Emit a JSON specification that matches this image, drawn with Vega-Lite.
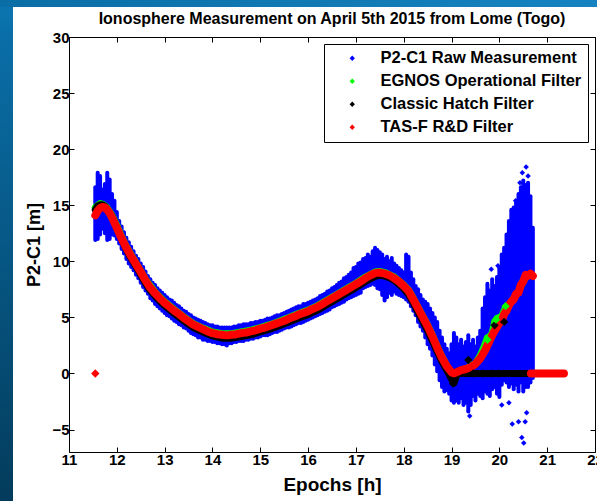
{
  "$schema": "https://vega.github.io/schema/vega-lite/v6.json",
  "background": "white",
  "padding": 0,
  "spacing": 0,
  "resolve": {"scale": {"color": "independent"}, "legend": {"color": "independent"}},
  "config": {
    "view": {"stroke": null},
    "font": "Liberation Sans",
    "axis": {
      "grid": false,
      "domainColor": "black",
      "domainWidth": 1,
      "tickColor": "black",
      "tickWidth": 1,
      "tickSize": -5,
      "labelFont": "Liberation Sans",
      "labelFontSize": 15,
      "labelFontWeight": "bold",
      "labelColor": "black",
      "labelPadding": 5,
      "labelFlush": false,
      "labelOverlap": false,
      "labelBound": false,
      "titleFont": "Liberation Sans",
      "titleFontWeight": "bold",
      "titleColor": "black"
    },
    "legend": {
      "orient": "top-right",
      "offset": 7,
      "fillColor": "white",
      "strokeColor": "black",
      "padding": 6,
      "rowPadding": 6,
      "symbolType": "diamond",
      "symbolSize": 28,
      "symbolOffset": 14,
      "labelOffset": 20,
      "labelFont": "Liberation Sans",
      "labelFontSize": 16.5,
      "labelFontWeight": "bold",
      "labelColor": "black",
      "labelLimit": 400,
      "symbolStrokeWidth": 0,
      "cornerRadius": 0
    }
  },
  "datasets": {
    "raw": [
      {"t":11.55,"lo":11.9,"hi":16.6},{"t":11.60,"lo":12.0,"hi":17.9},{"t":11.65,"lo":12.4,"hi":17.6},{"t":11.70,"lo":12.9,"hi":16.4},
      {"t":11.75,"lo":12.5,"hi":16.9},{"t":11.80,"lo":11.9,"hi":17.9},{"t":11.85,"lo":12.0,"hi":17.3},{"t":11.90,"lo":12.4,"hi":16.0},
      {"t":11.95,"lo":12.3,"hi":15.4},{"t":12.00,"lo":12.0,"hi":14.4},{"t":12.05,"lo":11.6,"hi":13.6},{"t":12.10,"lo":11.1,"hi":13.1},
      {"t":12.15,"lo":10.7,"hi":12.6},{"t":12.20,"lo":10.2,"hi":12.1},{"t":12.25,"lo":9.8,"hi":11.7},{"t":12.30,"lo":9.5,"hi":11.3},
      {"t":12.35,"lo":9.2,"hi":10.9},{"t":12.40,"lo":8.8,"hi":10.5},{"t":12.45,"lo":8.5,"hi":10.2},{"t":12.50,"lo":8.1,"hi":9.8},
      {"t":12.55,"lo":7.7,"hi":9.5},{"t":12.60,"lo":7.4,"hi":9.1},{"t":12.65,"lo":7.1,"hi":8.7},{"t":12.70,"lo":6.7,"hi":8.4},
      {"t":12.75,"lo":6.5,"hi":8.1},{"t":12.80,"lo":6.2,"hi":7.9},{"t":12.85,"lo":6.0,"hi":7.6},{"t":12.90,"lo":5.8,"hi":7.4},
      {"t":12.95,"lo":5.6,"hi":7.2},{"t":13.00,"lo":5.4,"hi":7.0},{"t":13.05,"lo":5.2,"hi":6.8},{"t":13.10,"lo":5.1,"hi":6.6},
      {"t":13.15,"lo":4.9,"hi":6.5},{"t":13.20,"lo":4.7,"hi":6.3},{"t":13.25,"lo":4.6,"hi":6.1},{"t":13.30,"lo":4.4,"hi":6.0},
      {"t":13.35,"lo":4.3,"hi":5.8},{"t":13.40,"lo":4.1,"hi":5.6},{"t":13.45,"lo":4.0,"hi":5.5},{"t":13.50,"lo":3.8,"hi":5.3},
      {"t":13.55,"lo":3.6,"hi":5.2},{"t":13.60,"lo":3.5,"hi":5.0},{"t":13.65,"lo":3.4,"hi":4.9},{"t":13.70,"lo":3.2,"hi":4.8},
      {"t":13.75,"lo":3.2,"hi":4.7},{"t":13.80,"lo":3.0,"hi":4.6},{"t":13.85,"lo":3.0,"hi":4.5},{"t":13.90,"lo":2.9,"hi":4.4},
      {"t":13.95,"lo":2.9,"hi":4.3},{"t":14.00,"lo":2.8,"hi":4.3},{"t":14.05,"lo":2.8,"hi":4.2},{"t":14.10,"lo":2.7,"hi":4.2},
      {"t":14.15,"lo":2.7,"hi":4.1},{"t":14.20,"lo":2.6,"hi":4.1},{"t":14.25,"lo":2.6,"hi":4.1},{"t":14.30,"lo":2.5,"hi":4.1},
      {"t":14.35,"lo":2.7,"hi":4.1},{"t":14.40,"lo":2.7,"hi":4.1},{"t":14.45,"lo":2.8,"hi":4.2},{"t":14.50,"lo":2.8,"hi":4.2},
      {"t":14.55,"lo":2.9,"hi":4.3},{"t":14.60,"lo":2.9,"hi":4.3},{"t":14.65,"lo":2.9,"hi":4.4},{"t":14.70,"lo":3.0,"hi":4.4},
      {"t":14.75,"lo":3.0,"hi":4.4},{"t":14.80,"lo":3.1,"hi":4.5},{"t":14.85,"lo":3.1,"hi":4.5},{"t":14.90,"lo":3.2,"hi":4.6},
      {"t":14.95,"lo":3.2,"hi":4.6},{"t":15.00,"lo":3.3,"hi":4.7},{"t":15.05,"lo":3.4,"hi":4.7},{"t":15.10,"lo":3.4,"hi":4.8},
      {"t":15.15,"lo":3.4,"hi":4.9},{"t":15.20,"lo":3.5,"hi":4.9},{"t":15.25,"lo":3.6,"hi":5.0},{"t":15.30,"lo":3.7,"hi":5.1},
      {"t":15.35,"lo":3.7,"hi":5.2},{"t":15.40,"lo":3.8,"hi":5.2},{"t":15.45,"lo":3.9,"hi":5.3},{"t":15.50,"lo":4.0,"hi":5.4},
      {"t":15.55,"lo":4.1,"hi":5.5},{"t":15.60,"lo":4.1,"hi":5.6},{"t":15.65,"lo":4.2,"hi":5.7},{"t":15.70,"lo":4.3,"hi":5.8},
      {"t":15.75,"lo":4.4,"hi":5.9},{"t":15.80,"lo":4.5,"hi":6.0},{"t":15.85,"lo":4.5,"hi":6.0},{"t":15.90,"lo":4.6,"hi":6.2},
      {"t":15.95,"lo":4.7,"hi":6.2},{"t":16.00,"lo":4.8,"hi":6.3},{"t":16.05,"lo":4.9,"hi":6.4},{"t":16.10,"lo":5.0,"hi":6.5},
      {"t":16.15,"lo":5.1,"hi":6.6},{"t":16.20,"lo":5.2,"hi":6.7},{"t":16.25,"lo":5.3,"hi":6.9},{"t":16.30,"lo":5.4,"hi":7.0},
      {"t":16.35,"lo":5.5,"hi":7.1},{"t":16.40,"lo":5.6,"hi":7.3},{"t":16.45,"lo":5.7,"hi":7.4},{"t":16.50,"lo":5.9,"hi":7.6},
      {"t":16.55,"lo":6.0,"hi":7.7},{"t":16.60,"lo":6.1,"hi":7.9},{"t":16.65,"lo":6.2,"hi":8.1},{"t":16.70,"lo":6.3,"hi":8.2},
      {"t":16.75,"lo":6.4,"hi":8.5},{"t":16.80,"lo":6.6,"hi":8.6},{"t":16.85,"lo":6.7,"hi":8.8},{"t":16.90,"lo":6.8,"hi":9.0},
      {"t":16.95,"lo":6.9,"hi":9.4},{"t":17.00,"lo":7.0,"hi":9.5},{"t":17.05,"lo":7.1,"hi":9.8},{"t":17.10,"lo":7.2,"hi":9.9},
      {"t":17.15,"lo":7.6,"hi":10.2},{"t":17.20,"lo":7.7,"hi":10.3},{"t":17.25,"lo":7.8,"hi":10.6},{"t":17.30,"lo":7.9,"hi":10.4},
      {"t":17.35,"lo":8.0,"hi":10.9},{"t":17.40,"lo":7.9,"hi":11.2},{"t":17.45,"lo":7.6,"hi":11.0},{"t":17.50,"lo":7.5,"hi":10.8},
      {"t":17.55,"lo":7.0,"hi":10.6},{"t":17.60,"lo":6.5,"hi":10.2},{"t":17.65,"lo":6.8,"hi":10.4},{"t":17.70,"lo":7.2,"hi":10.0},
      {"t":17.75,"lo":7.0,"hi":10.3},{"t":17.80,"lo":7.3,"hi":9.8},{"t":17.85,"lo":7.1,"hi":9.6},{"t":17.90,"lo":7.0,"hi":9.4},
      {"t":17.95,"lo":6.9,"hi":9.2},{"t":18.00,"lo":6.8,"hi":9.0},{"t":18.05,"lo":6.6,"hi":10.6},{"t":18.10,"lo":6.4,"hi":10.4},
      {"t":18.15,"lo":6.0,"hi":9.0},{"t":18.20,"lo":5.6,"hi":8.4},{"t":18.25,"lo":5.2,"hi":7.8},{"t":18.30,"lo":4.6,"hi":7.5},
      {"t":18.35,"lo":4.2,"hi":7.0},{"t":18.40,"lo":3.8,"hi":6.6},{"t":18.45,"lo":3.2,"hi":6.4},{"t":18.50,"lo":2.6,"hi":6.2},
      {"t":18.55,"lo":2.2,"hi":5.8},{"t":18.60,"lo":1.6,"hi":5.4},{"t":18.65,"lo":0.8,"hi":5.0},{"t":18.70,"lo":0.2,"hi":4.6},
      {"t":18.75,"lo":-0.6,"hi":3.8},{"t":18.80,"lo":-1.2,"hi":3.2},{"t":18.85,"lo":-1.6,"hi":2.6},{"t":18.90,"lo":-1.5,"hi":2.2},
      {"t":18.95,"lo":-1.8,"hi":1.8},{"t":19.00,"lo":-2.4,"hi":2.6},{"t":19.05,"lo":-2.6,"hi":3.6},{"t":19.10,"lo":-2.4,"hi":3.2},
      {"t":19.15,"lo":-2.6,"hi":2.6},{"t":19.20,"lo":-2.2,"hi":3.0},{"t":19.25,"lo":-2.8,"hi":2.4},{"t":19.30,"lo":-2.6,"hi":2.8},
      {"t":19.35,"lo":-3.4,"hi":3.4},{"t":19.40,"lo":-2.8,"hi":2.6},{"t":19.45,"lo":-2.0,"hi":3.0},{"t":19.50,"lo":-2.4,"hi":2.4},
      {"t":19.55,"lo":-1.8,"hi":3.2},{"t":19.60,"lo":-2.0,"hi":3.8},{"t":19.65,"lo":-2.2,"hi":5.8},{"t":19.70,"lo":-1.6,"hi":6.8},
      {"t":19.75,"lo":-1.8,"hi":8.0},{"t":19.80,"lo":-2.0,"hi":7.4},{"t":19.85,"lo":-1.4,"hi":8.4},{"t":19.90,"lo":-1.2,"hi":7.8},
      {"t":19.95,"lo":-1.8,"hi":8.6},{"t":20.00,"lo":-2.1,"hi":9.4},{"t":20.05,"lo":-1.0,"hi":10.6},{"t":20.10,"lo":-0.6,"hi":11.2},
      {"t":20.15,"lo":-0.8,"hi":12.4},{"t":20.20,"lo":-1.2,"hi":13.6},{"t":20.25,"lo":-0.9,"hi":14.6},{"t":20.30,"lo":-1.4,"hi":14.8},
      {"t":20.35,"lo":-1.0,"hi":15.4},{"t":20.40,"lo":-1.6,"hi":16.0},{"t":20.45,"lo":-0.8,"hi":16.6},{"t":20.50,"lo":-1.6,"hi":17.2},
      {"t":20.55,"lo":-1.2,"hi":16.8},{"t":20.60,"lo":-1.2,"hi":17.0},{"t":20.65,"lo":-0.8,"hi":15.8},{"t":20.70,"lo":-0.4,"hi":13.0}
    ],
    "raw_outliers": [
      {"t":20.27,"v":-4.5},{"t":20.40,"v":-4.3},{"t":20.54,"v":-4.3},{"t":20.57,"v":-3.5},{"t":20.47,"v":-5.7},
      {"t":20.51,"v":-6.2},{"t":20.48,"v":17.9},{"t":20.56,"v":18.4},{"t":20.43,"v":17.0},{"t":20.34,"v":15.4},
      {"t":19.97,"v":9.6},{"t":19.83,"v":9.3},{"t":20.60,"v":17.6},{"t":20.20,"v":-2.6},{"t":19.38,"v":-3.8},
      {"t":20.05,"v":-2.8}
    ],
    "egnos": [
      {"t":11.55,"v":14.8},{"t":11.60,"v":15.0},{"t":11.65,"v":15.15},{"t":11.70,"v":15.1},{"t":11.75,"v":14.95},
      {"t":11.80,"v":14.75},{"t":11.90,"v":14.1},{"t":12.00,"v":13.2},{"t":12.10,"v":12.2},{"t":12.20,"v":11.3},
      {"t":12.40,"v":9.85},{"t":12.60,"v":8.4},{"t":12.80,"v":7.25},{"t":13.00,"v":6.4},{"t":13.20,"v":5.7},
      {"t":13.40,"v":5.05},{"t":13.60,"v":4.45},{"t":13.80,"v":4.05},{"t":14.00,"v":3.7},{"t":14.20,"v":3.55},
      {"t":14.40,"v":3.55},{"t":14.60,"v":3.7},{"t":14.80,"v":3.85},{"t":15.00,"v":4.1},{"t":15.20,"v":4.35},
      {"t":15.40,"v":4.65},{"t":15.60,"v":5.0},{"t":15.80,"v":5.35},{"t":16.00,"v":5.65},{"t":16.20,"v":6.05},
      {"t":16.40,"v":6.55},{"t":16.60,"v":7.05},{"t":16.80,"v":7.55},{"t":17.00,"v":8.05},{"t":17.20,"v":8.6},
      {"t":17.40,"v":9.05},{"t":17.50,"v":9.1},{"t":17.60,"v":9.0},{"t":17.80,"v":8.6},{"t":18.00,"v":7.9},
      {"t":18.10,"v":7.45},{"t":18.20,"v":6.7},{"t":18.30,"v":5.9},{"t":18.40,"v":5.1},{"t":18.50,"v":4.3},
      {"t":18.60,"v":3.4},{"t":18.70,"v":2.4},{"t":18.80,"v":1.5},{"t":18.90,"v":0.7},{"t":19.00,"v":0.0},
      {"t":19.05,"v":-0.5},{"t":19.15,"v":0.1},{"t":19.30,"v":0.4},{"t":19.50,"v":0.9},{"t":19.60,"v":1.6},
      {"t":19.70,"v":2.6},{"t":19.75,"v":3.2},{"t":19.80,"v":3.3},{"t":19.85,"v":3.6},{"t":19.90,"v":4.6},
      {"t":19.95,"v":4.9},{"t":20.00,"v":5.0},{"t":20.05,"v":5.1},{"t":20.10,"v":5.6},{"t":20.15,"v":6.0},
      {"t":20.20,"v":6.1},{"t":20.30,"v":6.7},{"t":20.40,"v":7.3},{"t":20.50,"v":8.3},{"t":20.60,"v":8.8}
    ],
    "hatch": [
      {"t":11.55,"v":14.6},{"t":11.60,"v":14.95},{"t":11.65,"v":15.05},{"t":11.70,"v":15.05},{"t":11.75,"v":14.9},
      {"t":11.80,"v":14.65},{"t":11.90,"v":14.0},{"t":12.00,"v":13.05},{"t":12.10,"v":12.0},{"t":12.20,"v":11.05},
      {"t":12.30,"v":10.25},{"t":12.40,"v":9.55},{"t":12.50,"v":8.8},{"t":12.60,"v":8.05},{"t":12.70,"v":7.4},
      {"t":12.80,"v":6.9},{"t":12.90,"v":6.45},{"t":13.00,"v":6.05},{"t":13.20,"v":5.35},{"t":13.40,"v":4.7},
      {"t":13.60,"v":4.1},{"t":13.80,"v":3.7},{"t":14.00,"v":3.35},{"t":14.20,"v":3.15},{"t":14.40,"v":3.15},
      {"t":14.60,"v":3.3},{"t":14.80,"v":3.45},{"t":15.00,"v":3.7},{"t":15.20,"v":3.95},{"t":15.40,"v":4.25},
      {"t":15.60,"v":4.6},{"t":15.80,"v":4.95},{"t":16.00,"v":5.25},{"t":16.20,"v":5.65},{"t":16.40,"v":6.15},
      {"t":16.60,"v":6.65},{"t":16.80,"v":7.15},{"t":17.00,"v":7.65},{"t":17.20,"v":8.2},{"t":17.40,"v":8.65},
      {"t":17.50,"v":8.75},{"t":17.60,"v":8.7},{"t":17.70,"v":8.55},{"t":17.80,"v":8.3},{"t":17.90,"v":7.95},
      {"t":18.00,"v":7.55},{"t":18.10,"v":7.05},{"t":18.20,"v":6.3},{"t":18.30,"v":5.45},{"t":18.40,"v":4.65},
      {"t":18.50,"v":3.8},{"t":18.60,"v":2.9},{"t":18.70,"v":1.95},{"t":18.80,"v":1.05},{"t":18.90,"v":0.3},
      {"t":19.00,"v":-0.5},{"t":19.05,"v":-0.85},{"t":19.12,"v":0.0},{"t":20.66,"v":0.0}
    ],
    "tasf": [
      {"t":11.55,"v":14.1,"seg":"a"},{"t":11.60,"v":14.5,"seg":"a"},{"t":11.65,"v":14.75,"seg":"a"},{"t":11.70,"v":14.85,"seg":"a"},
      {"t":11.75,"v":14.8,"seg":"a"},{"t":11.80,"v":14.6,"seg":"a"},{"t":11.85,"v":14.3,"seg":"a"},{"t":11.90,"v":13.9,"seg":"a"},
      {"t":11.95,"v":13.45,"seg":"a"},{"t":12.00,"v":13.0,"seg":"a"},{"t":12.10,"v":12.05,"seg":"a"},{"t":12.20,"v":11.2,"seg":"a"},
      {"t":12.30,"v":10.45,"seg":"a"},{"t":12.40,"v":9.75,"seg":"a"},{"t":12.50,"v":9.05,"seg":"a"},{"t":12.60,"v":8.3,"seg":"a"},
      {"t":12.70,"v":7.65,"seg":"a"},{"t":12.80,"v":7.15,"seg":"a"},{"t":12.90,"v":6.7,"seg":"a"},{"t":13.00,"v":6.3,"seg":"a"},
      {"t":13.10,"v":5.95,"seg":"a"},{"t":13.20,"v":5.6,"seg":"a"},{"t":13.30,"v":5.3,"seg":"a"},{"t":13.40,"v":4.95,"seg":"a"},
      {"t":13.50,"v":4.65,"seg":"a"},{"t":13.60,"v":4.35,"seg":"a"},{"t":13.70,"v":4.15,"seg":"a"},{"t":13.80,"v":3.95,"seg":"a"},
      {"t":13.90,"v":3.75,"seg":"a"},{"t":14.00,"v":3.6,"seg":"a"},{"t":14.10,"v":3.5,"seg":"a"},{"t":14.20,"v":3.45,"seg":"a"},
      {"t":14.30,"v":3.4,"seg":"a"},{"t":14.40,"v":3.45,"seg":"a"},{"t":14.50,"v":3.5,"seg":"a"},{"t":14.60,"v":3.6,"seg":"a"},
      {"t":14.70,"v":3.65,"seg":"a"},{"t":14.80,"v":3.75,"seg":"a"},{"t":14.90,"v":3.85,"seg":"a"},{"t":15.00,"v":4.0,"seg":"a"},
      {"t":15.10,"v":4.1,"seg":"a"},{"t":15.20,"v":4.25,"seg":"a"},{"t":15.30,"v":4.4,"seg":"a"},{"t":15.40,"v":4.55,"seg":"a"},
      {"t":15.50,"v":4.7,"seg":"a"},{"t":15.60,"v":4.9,"seg":"a"},{"t":15.70,"v":5.05,"seg":"a"},{"t":15.80,"v":5.25,"seg":"a"},
      {"t":15.90,"v":5.4,"seg":"a"},{"t":16.00,"v":5.55,"seg":"a"},{"t":16.10,"v":5.75,"seg":"a"},{"t":16.20,"v":5.95,"seg":"a"},
      {"t":16.30,"v":6.2,"seg":"a"},{"t":16.40,"v":6.45,"seg":"a"},{"t":16.50,"v":6.7,"seg":"a"},{"t":16.60,"v":6.95,"seg":"a"},
      {"t":16.70,"v":7.2,"seg":"a"},{"t":16.80,"v":7.45,"seg":"a"},{"t":16.90,"v":7.7,"seg":"a"},{"t":17.00,"v":7.95,"seg":"a"},
      {"t":17.10,"v":8.2,"seg":"a"},{"t":17.20,"v":8.5,"seg":"a"},{"t":17.30,"v":8.75,"seg":"a"},{"t":17.40,"v":8.95,"seg":"a"},
      {"t":17.50,"v":9.0,"seg":"a"},{"t":17.60,"v":8.9,"seg":"a"},{"t":17.70,"v":8.75,"seg":"a"},{"t":17.80,"v":8.5,"seg":"a"},
      {"t":17.90,"v":8.2,"seg":"a"},{"t":18.00,"v":7.8,"seg":"a"},{"t":18.10,"v":7.35,"seg":"a"},{"t":18.20,"v":6.6,"seg":"a"},
      {"t":18.30,"v":5.8,"seg":"a"},{"t":18.40,"v":5.0,"seg":"a"},{"t":18.50,"v":4.2,"seg":"a"},{"t":18.60,"v":3.3,"seg":"a"},
      {"t":18.70,"v":2.3,"seg":"a"},{"t":18.80,"v":1.4,"seg":"a"},{"t":18.90,"v":0.65,"seg":"a"},{"t":19.00,"v":0.1,"seg":"a"},
      {"t":19.05,"v":0.0,"seg":"a"},{"t":19.10,"v":0.1,"seg":"a"},{"t":19.20,"v":0.3,"seg":"a"},{"t":19.30,"v":0.4,"seg":"a"},
      {"t":19.40,"v":0.55,"seg":"a"},{"t":19.50,"v":0.85,"seg":"a"},{"t":19.60,"v":1.35,"seg":"a"},{"t":19.70,"v":2.05,"seg":"a"},
      {"t":19.75,"v":2.5,"seg":"a"},{"t":19.80,"v":2.95,"seg":"a"},{"t":19.85,"v":3.4,"seg":"a"},{"t":19.90,"v":3.8,"seg":"a"},
      {"t":19.95,"v":4.15,"seg":"a"},{"t":20.00,"v":4.5,"seg":"a"},{"t":20.05,"v":4.7,"seg":"a"},{"t":20.10,"v":5.3,"seg":"a"},
      {"t":20.15,"v":5.6,"seg":"a"},{"t":20.20,"v":6.1,"seg":"a"},{"t":20.25,"v":6.4,"seg":"a"},{"t":20.30,"v":6.6,"seg":"a"},
      {"t":20.35,"v":7.1,"seg":"a"},{"t":20.40,"v":7.2,"seg":"a"},{"t":20.45,"v":7.9,"seg":"a"},{"t":20.50,"v":8.2,"seg":"a"},
      {"t":20.55,"v":8.8,"seg":"a"},{"t":20.60,"v":8.7,"seg":"a"},{"t":20.65,"v":8.9,"seg":"a"},{"t":20.70,"v":8.7,"seg":"a"},
      {"t":20.66,"v":0.0,"seg":"b"},{"t":21.35,"v":0.0,"seg":"b"}
    ],
    "markers": [
      {"series":"TAS-F R&D Filter","t":11.55,"v":0.0},
      {"series":"Classic Hatch Filter","t":19.03,"v":-0.9},
      {"series":"Classic Hatch Filter","t":19.35,"v":1.2},
      {"series":"Classic Hatch Filter","t":19.45,"v":0.0},
      {"series":"Classic Hatch Filter","t":19.65,"v":0.0},
      {"series":"Classic Hatch Filter","t":19.85,"v":0.0},
      {"series":"Classic Hatch Filter","t":19.98,"v":0.0},
      {"series":"Classic Hatch Filter","t":19.90,"v":4.3},
      {"series":"Classic Hatch Filter","t":20.10,"v":4.6},
      {"series":"EGNOS Operational Filter","t":19.75,"v":3.0},
      {"series":"EGNOS Operational Filter","t":19.93,"v":4.8},
      {"series":"EGNOS Operational Filter","t":20.13,"v":6.0}
    ]
  },
  "vconcat": [
    {
      "width": 597,
      "height": 7,
      "view": {
        "fill": {"gradient": "linear", "x1": 0, "y1": 0, "x2": 1, "y2": 0,
                 "stops": [{"offset": 0, "color": "#0a6ea6"}, {"offset": 1, "color": "#1683c0"}]},
        "stroke": null
      },
      "data": {"values": []},
      "mark": "point",
      "encoding": {}
    },
    {
      "columns": 2,
      "spacing": {"row": -7.5, "column": 12},
      "resolve": {"scale": {"color": "independent"}, "legend": {"color": "independent"}},
      "concat": [
        {
          "width": 13,
          "height": 30,
          "view": {
            "fill": {"gradient": "linear", "x1": 0, "y1": 0, "x2": 0, "y2": 1,
                     "stops": [{"offset": 0, "color": "#0b75b1"}, {"offset": 1, "color": "#0a6ea7"}]},
            "stroke": null
          },
          "data": {"values": []},
          "mark": "point",
          "encoding": {}
        },
        {
          "width": 526,
          "height": 1,
          "title": {
            "text": "Ionosphere Measurement on April 5th 2015 from Lome (Togo)",
            "orient": "bottom",
            "font": "Liberation Sans",
            "fontSize": 16,
            "fontWeight": "bold",
            "color": "black",
            "offset": 3
          },
          "data": {"values": []},
          "mark": "point",
          "encoding": {}
        },
        {
          "width": 13,
          "height": 464,
          "view": {
            "fill": {"gradient": "linear", "x1": 0, "y1": 0, "x2": 0, "y2": 1,
                     "stops": [{"offset": 0, "color": "#0a6ea7"}, {"offset": 1, "color": "#033c5c"}]},
            "stroke": null
          },
          "data": {"values": []},
          "mark": "point",
          "encoding": {}
        },
        {
          "width": 526,
          "height": 415,
          "resolve": {"axis": {"x": "independent", "y": "independent"}},
          "layer": [
            {
              "data": {"name": "raw"},
              "mark": {"type": "rule", "color": "#0000ff", "strokeWidth": 4, "strokeCap": "round"},
              "encoding": {
                "x": {
                  "field": "t", "type": "quantitative",
                  "scale": {"domain": [11, 22], "nice": false, "zero": false},
                  "axis": {"orient": "bottom", "values": [11,12,13,14,15,16,17,18,19,20,21,22],
                           "title": "Epochs [h]", "titleFontSize": 19, "titlePadding": 8}
                },
                "y": {
                  "field": "lo", "type": "quantitative",
                  "scale": {"domain": [-7, 30], "nice": false, "zero": false},
                  "axis": {"orient": "left", "values": [-5,0,5,10,15,20,25,30],
                           "title": "P2-C1 [m]", "titleFontSize": 18, "titlePadding": 8}
                },
                "y2": {"field": "hi"}
              }
            },
            {
              "data": {"name": "raw_outliers"},
              "mark": {"type": "point", "shape": "diamond", "filled": true, "size": 30, "opacity": 1, "color": "#0000ff"},
              "encoding": {
                "x": {"field": "t", "type": "quantitative", "axis": null},
                "y": {"field": "v", "type": "quantitative", "axis": null}
              }
            },
            {
              "data": {"name": "egnos"},
              "mark": {"type": "line", "color": "#00ff00", "strokeWidth": 7, "strokeCap": "round", "strokeJoin": "round"},
              "encoding": {
                "x": {"field": "t", "type": "quantitative", "axis": null},
                "y": {"field": "v", "type": "quantitative", "axis": null}
              }
            },
            {
              "data": {"name": "hatch"},
              "mark": {"type": "line", "color": "#000000", "strokeWidth": 7, "strokeCap": "round", "strokeJoin": "round"},
              "encoding": {
                "x": {"field": "t", "type": "quantitative", "axis": null},
                "y": {"field": "v", "type": "quantitative", "axis": null}
              }
            },
            {
              "data": {"name": "tasf"},
              "mark": {"type": "line", "color": "#ff0000", "strokeWidth": 8, "strokeCap": "round", "strokeJoin": "round"},
              "encoding": {
                "x": {
                  "field": "t", "type": "quantitative",
                  "axis": {"orient": "top", "values": [11,12,13,14,15,16,17,18,19,20,21,22], "labels": false, "title": null}
                },
                "y": {
                  "field": "v", "type": "quantitative",
                  "axis": {"orient": "right", "values": [-5,0,5,10,15,20,25,30], "labels": false, "title": null}
                },
                "detail": {"field": "seg", "type": "nominal"}
              }
            },
            {
              "data": {"name": "markers"},
              "mark": {"type": "point", "shape": "diamond", "filled": true, "size": 70, "opacity": 1},
              "encoding": {
                "x": {"field": "t", "type": "quantitative", "axis": null},
                "y": {"field": "v", "type": "quantitative", "axis": null},
                "color": {
                  "field": "series", "type": "nominal",
                  "scale": {
                    "domain": ["P2-C1 Raw Measurement", "EGNOS Operational Filter", "Classic Hatch Filter", "TAS-F R&D Filter"],
                    "range": ["#0000ff", "#00ff00", "#000000", "#ff0000"]
                  },
                  "legend": {"title": null, "symbolType": "diamond"}
                }
              }
            }
          ]
        }
      ]
    }
  ]
}
